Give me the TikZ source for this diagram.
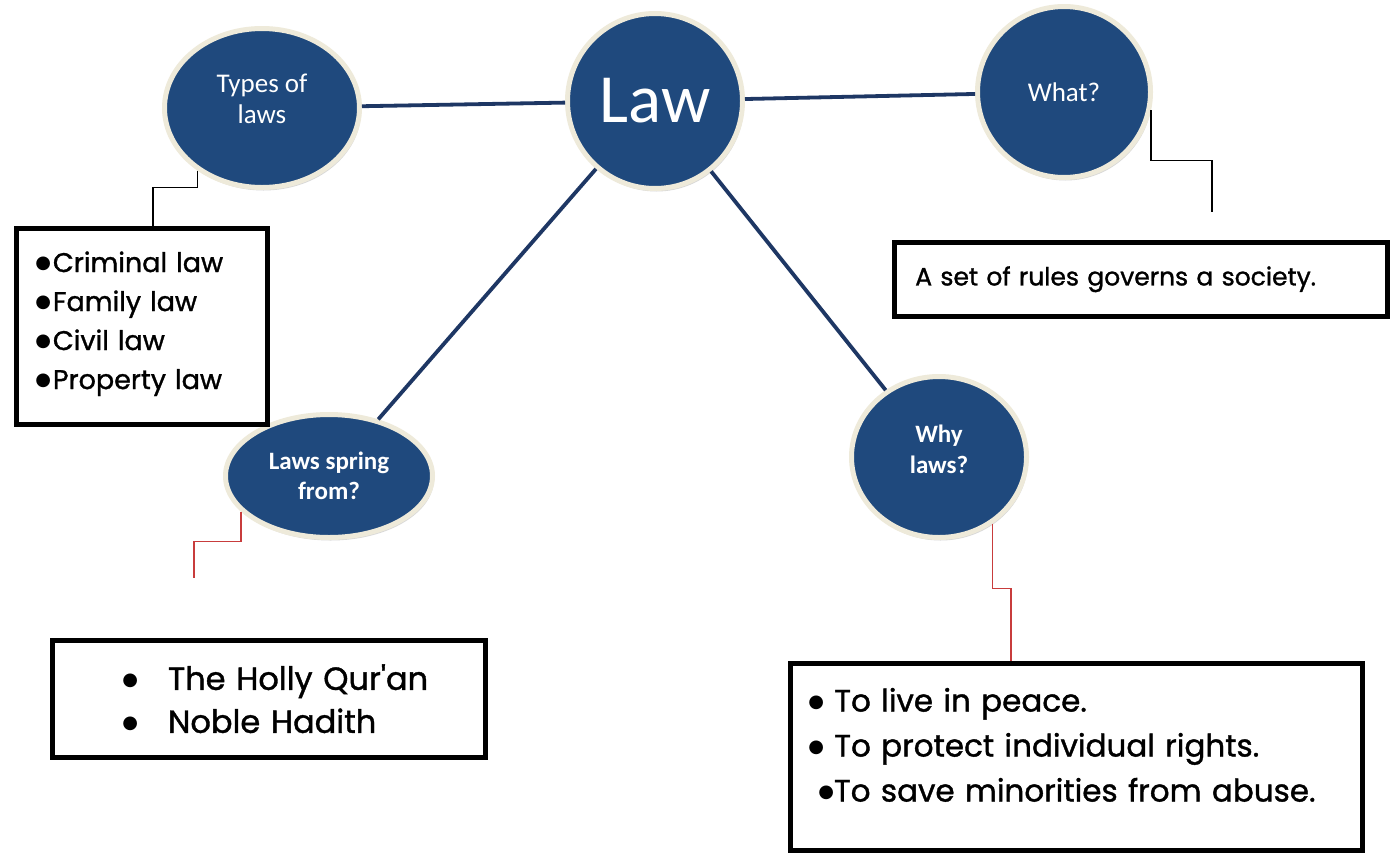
\documentclass[tikz,border=0pt]{standalone}
\usepackage{fontspec}
\setmainfont{Poppins}[FakeBold=1.2]
\newfontfamily\bubblefont{Carlito}
\newfontfamily\blobfont{DejaVu Sans}
\newcommand\blob{\raisebox{0.14em}{\blobfont\fontsize{18}{18}\selectfont\char"25CF}}
\usetikzlibrary{shapes.geometric,shadows}
\definecolor{lawblue}{RGB}{31,73,125}
\definecolor{lawline}{RGB}{30,55,100}
\definecolor{lawring}{RGB}{238,234,218}
\definecolor{lawred}{RGB}{200,60,60}
\tikzset{
	topic/.style={ellipse, fill=lawblue, draw=lawring, line width=5pt, inner sep=0pt, text=white, align=center,
		font=\bubblefont\fontsize{27}{31}\selectfont,
		drop shadow={opacity=0.3, shadow xshift=1.5pt, shadow yshift=-3pt}},
	link/.style={lawline, line width=3.8pt},
	infobox/.style={draw=black, line width=4.5pt, fill=white, align=left, anchor=north west},
	elbow/.style={line width=1.2pt},
}

\begin{document}
\begin{tikzpicture}[x=1pt, y=-1pt]
			%%%%% START %%%%%
			\useasboundingbox[fill=white] (0,0) rectangle (1391,852);
			
			\node[topic, minimum width=175pt, minimum height=175pt, font=\bubblefont\fontsize{69}{72}\selectfont] (law) at (655,101) {Law};
			\node[topic, minimum width=195pt, minimum height=159pt, text depth=18pt] (types) at (262,108) {Types of\\laws};
			\node[topic, minimum width=173pt, minimum height=171pt] (what) at (1064,92) {What?};
			\node[topic, minimum width=207pt, minimum height=123pt, font=\bubblefont\bfseries\fontsize{25}{30}\selectfont] (spring) at (329,476) {Laws spring\\from?};
			\node[topic, minimum width=175pt, minimum height=161pt, text depth=16pt, font=\bubblefont\bfseries\fontsize{25}{31}\selectfont] (why) at (939,457) {Why\\laws?};
			
			\draw[link] (types) -- (law);
			\draw[link] (law) -- (what);
			\draw[link] (law) -- (spring);
			\draw[link] (law) -- (why);
			
			\node[infobox, minimum width=251pt, minimum height=196pt, inner xsep=19pt, text width=213pt, font=\fontsize{27}{39}\selectfont] (kinds) at (14,226)
				{\blob\hspace{2pt}Criminal law\\\blob\hspace{2pt}Family law\\\blob\hspace{2pt}Civil law\\\blob\hspace{2pt}Property law\\[-27pt]\mbox{}};
			\node[infobox, minimum width=493pt, minimum height=74pt, inner xsep=21pt, text width=451pt, font=\fontsize{25}{30}\selectfont] (meaning) at (892,240)
				{A set of rules governs a society.};
			\node[infobox, minimum width=433pt, minimum height=117pt, inner xsep=20pt, text width=393pt, font=\fontsize{32}{43}\selectfont] (sources) at (50,638)
				{\hspace{50pt}\blob\hspace{30pt}The Holly Qur\textquotesingle an\\\hspace{50pt}\blob\hspace{30pt}Noble Hadith};
			\node[infobox, minimum width=572pt, minimum height=187pt, inner xsep=18pt, text width=536pt, font=\fontsize{31}{45}\selectfont] (reasons) at (788,661)
				{\blob{} To live in peace.\\\blob{} To protect individual rights.\\\hspace{10pt}\blob To save minorities from abuse.\\[-21pt]\mbox{}};
			
			\coordinate (typesfoot) at (153,226);
			\coordinate (whatfoot) at (1212,212);
			\coordinate (springfoot) at (194,578);
			\coordinate (whyfoot) at (1011,661);
			
			\draw[elbow] (types.224) -- ++(0,17) -| (typesfoot);
			\draw[elbow] (what.-12) -- ++(0,50) -| (whatfoot);
			\draw[elbow, lawred] (spring.202) -- ++(0,30) -| (springfoot);
			\draw[elbow, lawred] (why.-51) -- ++(0,65) -| (whyfoot);
			%%%%% END %%%%%
\end{tikzpicture}
\end{document}
